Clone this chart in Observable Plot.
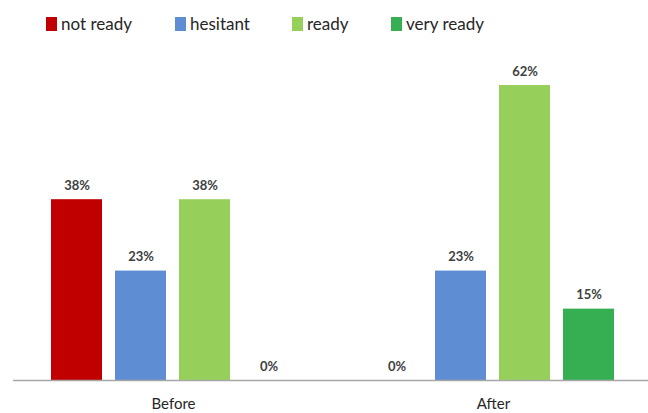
<!DOCTYPE html>
<html>
<head>
<meta charset="utf-8">
<script src="https://cdn.jsdelivr.net/npm/d3@7"></script>
<script src="https://cdn.jsdelivr.net/npm/@observablehq/plot@0.6"></script>
<style>
  html, body { margin: 0; padding: 0; background: #fff; }
  body { width: 648px; height: 413px; overflow: hidden; font-family: Lato, "Liberation Sans", sans-serif; }
  #legend { position: relative; height: 48px; }
  .item { position: absolute; top: 13px; display: flex; align-items: center; font-size: 17px; color: #262626; }
  .sw { width: 11px; height: 14px; margin-right: 4px; }
</style>
</head>
<body>
<div id="legend"></div>
<div id="chart"></div>
<script>
const groups = ["Before", "After"];
const categories = ["not ready", "hesitant", "ready", "very ready"];
const colors = ["#C00000", "#5E8DD3", "#96D05A", "#35AF52"];
const beforeValues = [38, 23, 38, 0];
const afterValues = [0, 23, 62, 15];

const data = [];
categories.forEach((c, i) => data.push({group: "Before", category: c, value: beforeValues[i]}));
categories.forEach((c, i) => data.push({group: "After", category: c, value: afterValues[i]}));

// legend
const legendX = [46, 175, 292, 391];
const legend = document.getElementById("legend");
categories.forEach((c, i) => {
  const d = document.createElement("div");
  d.className = "item";
  d.style.left = legendX[i] + "px";
  d.innerHTML = `<span class="sw" style="background:${colors[i]}"></span><span>${c}</span>`;
  legend.appendChild(d);
});

const chart = Plot.plot({
  width: 648,
  height: 365,
  marginLeft: 13,
  marginRight: 0,
  marginTop: 37,
  marginBottom: 33,
  style: {fontFamily: "Lato, 'Liberation Sans', sans-serif", color: "#404040", background: "#fff"},
  fx: {domain: groups, padding: 0, range: [13, 653]},
  x: {domain: categories, paddingInner: 0.2, paddingOuter: 0.6, axis: null},
  y: {domain: [0, 62], axis: null},
  color: {domain: categories, range: colors},
  marks: [
    Plot.barY(data, {fx: "group", x: "category", y: "value", fill: "category"}),
    Plot.ruleY([0], {stroke: "#a6a6a6", strokeWidth: 1.5}),
    Plot.text(data, {fx: "group", x: "category", y: "value", text: d => d.value + "%", lineAnchor: "bottom", dy: -10, fontSize: 13, fontWeight: "bold", fill: "#404040"}),
    Plot.axisFx({anchor: "bottom", tickSize: 0, tickPadding: 18, fontSize: 15, label: null, color: "#262626"})
  ]
});
document.getElementById("chart").appendChild(chart);
</script>
</body>
</html>
